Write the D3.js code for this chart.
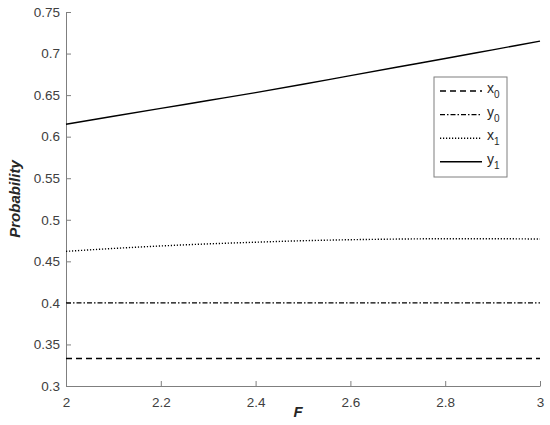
<!DOCTYPE html>
<html>
<head>
<meta charset="utf-8">
<script src="https://d3js.org/d3.v7.min.js"></script>
<style>
body { margin: 0; background: #fff; }
text { font-family: Arial, "Liberation Sans", Helvetica, sans-serif; }
</style>
</head>
<body>
<svg width="550" height="425"></svg>
<script>
// values
var F = [2, 2.1, 2.2, 2.3, 2.4, 2.5, 2.6, 2.7, 2.8, 2.9, 3];
var x0 = [0.333, 0.333, 0.333, 0.333, 0.333, 0.333, 0.333, 0.333, 0.333, 0.333, 0.333];
var y0 = [0.4, 0.4, 0.4, 0.4, 0.4, 0.4, 0.4, 0.4, 0.4, 0.4, 0.4];
var x1 = [0.462, 0.4655, 0.4685, 0.471, 0.473, 0.4748, 0.476, 0.4768, 0.4772, 0.4772, 0.4768];
var y1 = [0.615, 0.6245, 0.634, 0.6435, 0.653, 0.663, 0.6735, 0.6838, 0.694, 0.7045, 0.715];
var xTicks = [2, 2.2, 2.4, 2.6, 2.8, 3];
var yTicks = [0.3, 0.35, 0.4, 0.45, 0.5, 0.55, 0.6, 0.65, 0.7, 0.75];
var seriesNames = ["x", "y", "x", "y"];
var seriesSubs = ["0", "0", "1", "1"];
var seriesDash = ["6,4", "5,2,1.5,2", "1.2,1.8", null];

var svg = d3.select("svg");
var m = {left: 66, right: 540, top: 12, bottom: 386};

var x = d3.scaleLinear().domain([2, 3]).range([m.left, m.right]);
var y = d3.scaleLinear().domain([0.3, 0.75]).range([m.bottom, m.top]);

var axisColor = "#7f7f7f";
var textColor = "#404040";

// x axis
var gx = svg.append("g")
  .attr("transform", "translate(0," + m.bottom + ")")
  .call(d3.axisBottom(x).tickValues(xTicks).tickSizeInner(-5).tickSizeOuter(0)
    .tickFormat(function(d) { return d3.format("")(+d.toFixed(1)); }));
gx.selectAll("text").attr("y", 21).attr("dy", null);

// y axis
var gy = svg.append("g")
  .attr("transform", "translate(" + m.left + ",0)")
  .call(d3.axisLeft(y).tickValues(yTicks).tickSizeInner(-5).tickSizeOuter(0)
    .tickFormat(function(d) { return d3.format("")(+d.toFixed(2)); }));
gy.selectAll("text").attr("x", -6);

svg.selectAll(".domain, .tick line").attr("stroke", axisColor);
svg.selectAll(".tick text").attr("fill", textColor).style("font-size", "13.5px");

// axis labels
svg.append("text")
  .attr("x", x(2.5) - 5).attr("y", 417)
  .attr("text-anchor", "middle")
  .style("font-size", "15px").style("font-weight", "bold").style("font-style", "italic")
  .attr("fill", "#262626")
  .text("F");

svg.append("text")
  .attr("transform", "translate(20," + y(0.525) + ") rotate(-90)")
  .attr("text-anchor", "middle")
  .style("font-size", "15px").style("font-weight", "bold").style("font-style", "italic")
  .attr("fill", "#262626")
  .text("Probability");

// lines
var allSeries = [x0, y0, x1, y1];
var line = d3.line()
  .x(function(d, i) { return x(F[i]); })
  .y(function(d) { return y(d); })
  .curve(d3.curveMonotoneX);

allSeries.forEach(function(s, k) {
  svg.append("path")
    .datum(s)
    .attr("d", line)
    .attr("fill", "none")
    .attr("stroke", "#000")
    .attr("stroke-width", 1.4)
    .attr("stroke-dasharray", seriesDash[k]);
});

// legend
var lg = svg.append("g").attr("transform", "translate(434,77)");
lg.append("rect")
  .attr("width", 73).attr("height", 100)
  .attr("fill", "#fff").attr("stroke", axisColor).attr("stroke-width", 1);

seriesNames.forEach(function(n, k) {
  var yy = 14 + k * 23.6;
  lg.append("line")
    .attr("x1", 6).attr("x2", 48)
    .attr("y1", yy).attr("y2", yy)
    .attr("stroke", "#000").attr("stroke-width", 1.4)
    .attr("stroke-dasharray", seriesDash[k]);
  var t = lg.append("text")
    .attr("x", 53).attr("y", yy + 2)
    .attr("fill", "#262626")
    .style("font-size", "14px");
  t.append("tspan").text(n);
  t.append("tspan").attr("dy", 5).style("font-size", "10px").text(seriesSubs[k]);
});
</script>
</body>
</html>
